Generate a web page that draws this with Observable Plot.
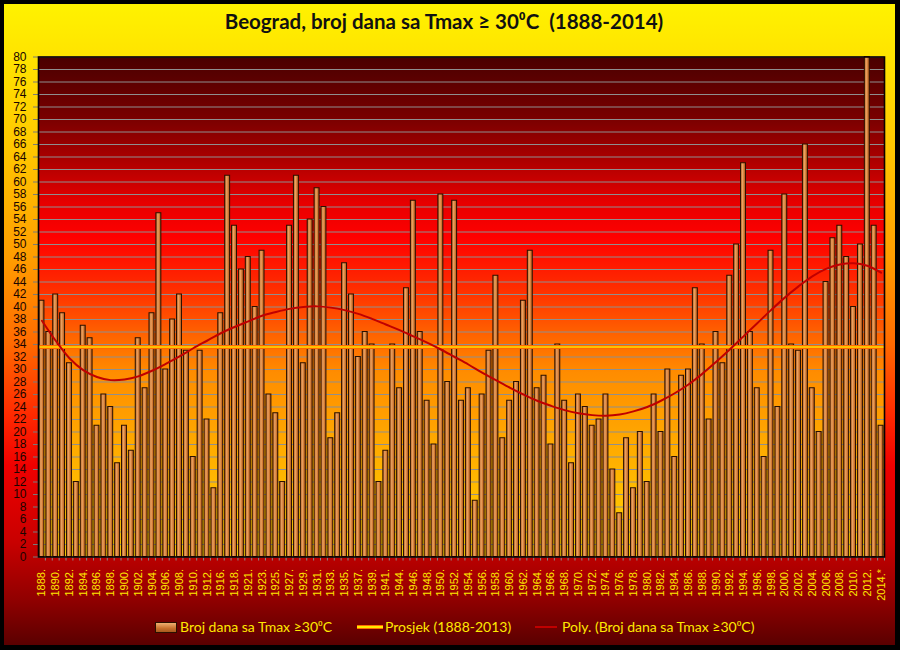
<!DOCTYPE html>
<html>
<head>
<meta charset="utf-8">
<script src="https://cdn.jsdelivr.net/npm/d3@7"></script>
<script src="https://cdn.jsdelivr.net/npm/@observablehq/plot@0.6"></script>
<style>
  html, body { margin: 0; padding: 0; background: #000; }
  #wrap { position: relative; width: 900px; height: 650px; background: #000; overflow: hidden; }
  #bg { position: absolute; left: 4px; top: 4px; width: 891px; height: 641px;
    background: linear-gradient(to bottom, #FFF200 0%, #FFE400 8%, #FFC800 22%, #FF9C00 40%, #FF6A00 53%, #FF2A00 64%, #F00000 72%, #C80000 84%, #900000 93%, #5A0000 100%); }
  #title { position: absolute; left: 4px; top: 9px; width: 880px; text-align: center;
    font-family: Lato, "Open Sans", sans-serif; font-weight: bold; font-size: 20.5px; color: #111; white-space: nowrap; }
  #chart { position: absolute; left: 0; top: 50px; }
  .lg { position: absolute; top: 618px; font-family: Lato, "Open Sans", sans-serif; font-size: 14px; color: #FFE800; white-space: nowrap; line-height: 18px; }
</style>
</head>
<body>
<div id="wrap">
  <div id="bg"></div>
  <div id="title">Beograd, broj dana sa Tmax ≥ 30⁰C&nbsp; (1888-2014)</div>
  <div id="chart"></div>
  <div id="sw1" style="position:absolute;left:155px;top:622px;width:20px;height:9px;border:1px solid #2a1000;background:linear-gradient(to bottom,#F0B070,#C8702C 60%,#A85A1E);"></div>
  <div class="lg" style="left:180px;">Broj dana sa Tmax ≥30⁰C</div>
  <div style="position:absolute;left:357px;top:625px;width:26px;height:2px;background:#FFE800;border-top:1px solid #FF6A00;border-bottom:1px solid #FF6A00;"></div>
  <div class="lg" style="left:385px;">Prosjek (1888-2013)</div>
  <div style="position:absolute;left:535px;top:626px;width:22px;height:2px;background:#C00000;"></div>
  <div class="lg" style="left:562px;">Poly. (Broj dana sa Tmax ≥30⁰C)</div>
</div>
<script>
// Years present in the series (some war years missing)
const years = [1888,1889,1890,1891,1892,1893,1894,1895,1896,1897,1898,1899,1900,1901,1902,1903,1904,1905,1906,1907,1908,1909,1910,1911,1912,1913,
  1916,1917,1918,
  1920,1921,1922,1923,1924,1925,1926,1927,1928,1929,1930,1931,1932,1933,1934,1935,1936,1937,1938,1939,1940,1941,
  1943,1944,1945,1946,1947,1948,1949,1950,1951,1952,1953,1954,1955,1956,1957,1958,1959,1960,1961,1962,1963,1964,1965,1966,1967,1968,1969,
  1970,1971,1972,1973,1974,1975,1976,1977,1978,1979,1980,1981,1982,1983,1984,1985,1986,1987,1988,1989,1990,1991,1992,1993,1994,1995,1996,
  1997,1998,1999,2000,2001,2002,2003,2004,2005,2006,2007,2008,2009,2010,2011,2012,2013,2014];

// Number of days with Tmax >= 30 °C
const days = [41,36,42,39,31,12,37,35,21,26,24,15,21,17,35,27,39,55,30,38,42,33,16,33,22,11,
  39,61,53,
  46,48,40,49,26,23,12,53,61,31,54,59,56,19,23,47,42,32,36,34,12,17,
  34,27,43,57,36,25,18,58,28,57,25,27,9,26,33,45,19,25,28,41,49,27,29,18,34,25,15,
  26,24,21,22,26,14,7,19,11,20,12,26,20,30,16,29,30,43,34,22,36,31,45,50,63,36,27,
  16,49,24,58,34,33,66,27,20,44,51,53,48,40,50,80,53,21];

// Average 1888-2013
const average = [33.6];

// Tick positions / labels on the category axis
const tickYears = [1888,1890,1892,1894,1896,1898,1900,1902,1904,1906,1908,1910,1912,1916,1918,1921,1923,1925,1927,1929,1931,1933,1935,1937,1939,1941,
  1944,1946,1948,1950,1952,1954,1956,1958,1960,1962,1964,1966,1968,1970,1972,1974,1976,1978,1980,1982,1984,1986,1988,1990,1992,1994,1996,
  1998,2000,2002,2004,2006,2008,2010,2012,2014];
const tickLabels = ["1888.","1890.","1892.","1894.","1896.","1898.","1900.","1902.","1904.","1906.","1908.","1910.","1912.","1916.","1918.","1921.","1923.","1925.","1927.","1929.","1931.","1933.","1935.","1937.","1939.","1941.",
  "1944.","1946.","1948.","1950.","1952.","1954.","1956.","1958.","1960.","1962.","1964.","1966.","1968.","1970.","1972.","1974.","1976.","1978.","1980.","1982.","1984.","1986.","1988.","1990.","1992.","1994.","1996.",
  "1998.","2000.","2002.","2004.","2006.","2008.","2010.","2012.","2014.*"];

// Polynomial trend values at the tick years
const trendValues = [37.8,34.6,31.8,29.9,28.8,28.3,28.4,28.9,29.8,30.9,32.1,33.4,34.6,35.8,36.8,37.7,38.6,39.2,39.7,40.0,40.1,39.9,39.5,38.9,38.1,37.2,
  36.3,35.3,34.3,33.2,32.0,30.8,29.5,28.3,27.1,26.0,25.0,24.2,23.5,23.0,22.7,22.6,22.8,23.3,24.0,25.0,26.2,27.6,29.3,31.2,33.2,35.3,37.4,
  39.5,41.5,43.3,44.9,46.1,46.8,47.0,46.6,45.5];

const yTicks = [0,2,4,6,8,10,12,14,16,18,20,22,24,26,28,30,32,34,36,38,40,42,44,46,48,50,52,54,56,58,60,62,64,66,68,70,72,74,76,78,80];

const data = years.map((y, i) => ({year: y, days: days[i]}));
const trend = tickYears.map((y, i) => ({year: y, v: trendValues[i]}));
const labelOf = new Map(tickYears.map((y, i) => [y, tickLabels[i]]));

const svg = Plot.plot({
  width: 900,
  height: 560,
  marginLeft: 38,
  marginRight: 16,
  marginTop: 6.5,
  marginBottom: 53.5,
  style: {background: "transparent", fontFamily: "'Liberation Sans', Arial, sans-serif", overflow: "visible"},
  x: {type: "band", domain: years, paddingInner: 0.28, paddingOuter: 0.14, axis: null, label: null},
  y: {domain: [0, 80], axis: null, label: null},
  marks: [
    Plot.frame({fill: "url(#plotGrad)", stroke: null}),
    Plot.gridY(yTicks, {stroke: "#8f8f8f", strokeOpacity: 1, strokeWidth: 1}),
    Plot.barY(data, {x: "year", y: "days", fill: "url(#barGrad)", stroke: "#2a1000", strokeWidth: 1}),
    Plot.ruleY(average, {stroke: "#FF6A00", strokeWidth: 4}),
    Plot.ruleY(average, {stroke: "#FFE000", strokeWidth: 1.6}),
    Plot.line(trend, {x: "year", y: "v", stroke: "#C00000", strokeWidth: 2, curve: "catmull-rom"}),
    Plot.axisY(yTicks, {tickSize: 5, tickPadding: 7, stroke: "#7a7a7a", fill: "#1a0500", fontSize: 12, label: null}),
    Plot.axisX(years, {tickSize: 4, tickFormat: () => "", stroke: "#8a8a8a", dx: 3.44, label: null}),
    Plot.axisX(tickYears, {tickSize: 0, tickPadding: 12, tickRotate: -90, tickFormat: d => labelOf.get(d), fill: "#FFE800", fontSize: 11, label: null}),
    Plot.frame({stroke: "#0a0000", strokeWidth: 1.6})
  ]
});

const defs = d3.select(svg).insert("defs", ":first-child");
const pg = defs.append("linearGradient").attr("id", "plotGrad").attr("x1", 0).attr("y1", 0).attr("x2", 0).attr("y2", 1);
[[0, "#4A0000"], [0.12, "#780000"], [0.2, "#A80000"], [0.29, "#E60000"], [0.36, "#FF0000"], [0.46, "#FF2C00"], [0.55, "#FF6000"],
 [0.63, "#FF8C00"], [0.75, "#FFA500"], [0.88, "#FFBE00"], [1, "#FFD400"]].forEach(([o, c]) =>
  pg.append("stop").attr("offset", o).attr("stop-color", c));
const bg = defs.append("linearGradient").attr("id", "barGrad").attr("x1", 0).attr("y1", 0).attr("x2", 1).attr("y2", 0);
[[0, "#B05C1C"], [0.4, "#EBA262"], [0.7, "#D27A34"], [1, "#A8541A"]].forEach(([o, c]) =>
  bg.append("stop").attr("offset", o).attr("stop-color", c));

document.getElementById("chart").appendChild(svg);
</script>
</body>
</html>
